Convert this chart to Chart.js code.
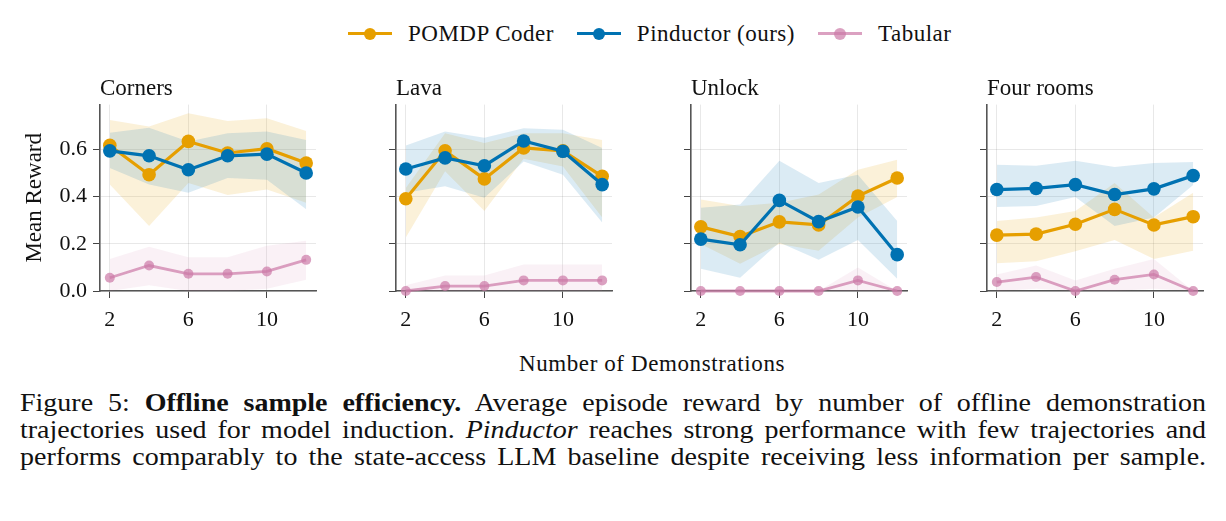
<!DOCTYPE html>
<html>
<head>
<meta charset="utf-8">
<script src="https://cdn.jsdelivr.net/npm/chart.js"></script>
<style>
    html, body { margin: 0; padding: 0; background: #fff; }
    body { width: 1226px; height: 521px; position: relative; overflow: hidden;
           font-family: "Liberation Serif", "Times New Roman", serif; color: #111; }
    canvas { position: absolute; top: 70px; }
    #legend { position: absolute; top: 20px; left: 348px; height: 28px; display: flex; align-items: center;
              font-size: 23px; }
    .sw { position: relative; width: 44px; height: 28px; margin-right: 16px; }
    .sw .ln { position: absolute; left: 0; right: 0; top: 12px; height: 3px; }
    .sw .dot { position: absolute; left: 16px; top: 7.5px; width: 12px; height: 12px; border-radius: 50%; }
    .lbl { margin-right: 23px; letter-spacing: 0.5px; }
    #xlabel { position: absolute; top: 351px; left: 0; width: 1304px; text-align: center; font-size: 23px;
              letter-spacing: 0.6px; }
    #caption { position: absolute; left: 20px; top: 389px; width: 1059px; font-size: 25px; line-height: 27px;
               transform: scaleX(1.12); transform-origin: 0 0; }
    #caption div { text-align: justify; text-align-last: justify; white-space: nowrap; }
</style>
</head>
<body>
<div id="legend"></div>
<div id="xlabel">Number of Demonstrations</div>
<div id="caption">
    <div>Figure 5: <b>Offline sample efficiency.</b> Average episode reward by number of offline demonstration</div>
    <div>trajectories used for model induction. <i>Pinductor</i> reaches strong performance with few trajectories and</div>
    <div>performs comparably to the state-access LLM baseline despite receiving less information per sample.</div>
</div>

<script>
// --------------------------------------------------------------------
// DATA
// --------------------------------------------------------------------
const demos = [2, 4, 6, 8, 10, 12];
const xTicks = [2, 6, 10];
const yTicks = [0, 0.2, 0.4, 0.6];
const panelNames = ["Corners", "Lava", "Unlock", "Four rooms"];
const seriesNames = ["POMDP Coder", "Pinductor (ours)", "Tabular"];

// one row per panel
const pomdpMean = [
    [0.617, 0.493, 0.634, 0.585, 0.603, 0.542],
    [0.391, 0.594, 0.475, 0.606, 0.594, 0.486],
    [0.272, 0.231, 0.293, 0.280, 0.402, 0.479],
    [0.237, 0.241, 0.283, 0.346, 0.280, 0.315]
];
const pomdpLow = [
    [0.451, 0.276, 0.458, 0.407, 0.430, 0.374],
    [0.227, 0.507, 0.339, 0.561, 0.528, 0.311],
    [0.199, 0.115, 0.199, 0.171, 0.311, 0.398],
    [0.118, 0.126, 0.168, 0.216, 0.136, 0.171]
];
const pomdpHigh = [
    [0.725, 0.697, 0.753, 0.720, 0.732, 0.678],
    [0.437, 0.669, 0.627, 0.669, 0.669, 0.640],
    [0.388, 0.360, 0.374, 0.409, 0.514, 0.556],
    [0.297, 0.311, 0.339, 0.458, 0.311, 0.416]
];
const pinductorMean = [
    [0.594, 0.573, 0.514, 0.573, 0.580, 0.500],
    [0.517, 0.564, 0.531, 0.636, 0.592, 0.451],
    [0.220, 0.196, 0.384, 0.294, 0.356, 0.154],
    [0.430, 0.435, 0.451, 0.409, 0.433, 0.489]
];
const pinductorLow = [
    [0.521, 0.451, 0.416, 0.479, 0.472, 0.346],
    [0.416, 0.444, 0.395, 0.549, 0.493, 0.290],
    [0.094, 0.056, 0.206, 0.132, 0.216, 0.052],
    [0.356, 0.360, 0.398, 0.276, 0.311, 0.449]
];
const pinductorHigh = [
    [0.671, 0.692, 0.634, 0.669, 0.676, 0.640],
    [0.617, 0.676, 0.650, 0.690, 0.683, 0.606],
    [0.353, 0.367, 0.552, 0.458, 0.493, 0.297],
    [0.535, 0.531, 0.552, 0.526, 0.542, 0.547]
];
const tabularMean = [
    [0.056, 0.108, 0.073, 0.073, 0.083, 0.132],
    [0.000, 0.021, 0.021, 0.045, 0.045, 0.045],
    [0.000, 0.000, 0.000, 0.000, 0.045, 0.000],
    [0.038, 0.059, 0.000, 0.048, 0.070, 0.000]
];
const tabularLow = [
    [0.000, 0.024, 0.000, 0.000, 0.010, 0.048],
    [0.000, 0.000, 0.000, 0.000, 0.000, 0.000],
    [0.000, 0.000, 0.000, 0.000, 0.000, 0.000],
    [0.000, 0.010, 0.000, 0.000, 0.010, 0.000]
];
const tabularHigh = [
    [0.136, 0.188, 0.143, 0.143, 0.192, 0.213],
    [0.024, 0.066, 0.066, 0.112, 0.112, 0.112],
    [0.000, 0.000, 0.000, 0.000, 0.100, 0.000],
    [0.070, 0.108, 0.045, 0.094, 0.136, 0.000]
];

// --------------------------------------------------------------------
// STYLE
// --------------------------------------------------------------------
const ORANGE = "#E69F00";
const BLUE = "#0072B2";
const PINK = "rgba(204,121,167,0.7)";
const colors = [ORANGE, BLUE, PINK];
const bandColors = ["rgba(230,159,0,0.15)", "rgba(0,114,178,0.14)", "rgba(204,121,167,0.10)"];

const FONT = "'Liberation Serif', 'Times New Roman', serif";
Chart.defaults.font.family = FONT;
Chart.defaults.color = "#111";

const axisX = [100, 396, 691, 987];
const PLOT_W = 216;
const PAD_R = 8;
const CANVAS_H = 261;

// legend
const legend = document.getElementById("legend");
seriesNames.forEach((name, i) => {
    const sw = document.createElement("span");
    sw.className = "sw";
    sw.innerHTML = `<span class="ln" style="background:${colors[i]}"></span>` +
                   `<span class="dot" style="background:${colors[i]}"></span>`;
    const lbl = document.createElement("span");
    lbl.className = "lbl";
    lbl.textContent = name;
    legend.appendChild(sw);
    legend.appendChild(lbl);
});

function pts(arr) {
    return demos.map((x, i) => ({ x: x, y: arr[i] }));
}

function line(arr, color, width, radius, order) {
    return {
        data: pts(arr), borderColor: color, backgroundColor: color,
        borderWidth: width, pointRadius: radius, pointBorderWidth: 0,
        pointBackgroundColor: color, fill: false, order: order, clip: false
    };
}

function band(arr, color, fillTo, order) {
    return {
        data: pts(arr), borderWidth: 0, pointRadius: 0, backgroundColor: color,
        fill: fillTo, order: order
    };
}

panelNames.forEach((title, p) => {
    const yw = p === 0 ? 100 : 30;
    const canvas = document.createElement("canvas");
    const w = yw + PLOT_W + PAD_R;
    canvas.width = w;
    canvas.height = CANVAS_H;
    canvas.style.width = w + "px";
    canvas.style.height = CANVAS_H + "px";
    canvas.style.left = (axisX[p] - yw) + "px";
    document.body.appendChild(canvas);

    new Chart(canvas.getContext("2d"), {
        type: "line",
        data: {
            datasets: [
                line(pinductorMean[p], BLUE, 3.2, 6.8, 0),
                line(pomdpMean[p], ORANGE, 3.2, 6.8, 1),
                line(tabularMean[p], PINK, 2.8, 5, 2),
                band(pinductorHigh[p], bandColors[1], "+1", 10),
                band(pinductorLow[p], "transparent", false, 11),
                band(pomdpHigh[p], bandColors[0], "+1", 12),
                band(pomdpLow[p], "transparent", false, 13),
                band(tabularHigh[p], bandColors[2], "+1", 14),
                band(tabularLow[p], "transparent", false, 15)
            ]
        },
        options: {
            responsive: false,
            animation: false,
            devicePixelRatio: 1,
            layout: { padding: { top: 0, right: PAD_R, bottom: 0, left: 0 } },
            plugins: {
                legend: { display: false },
                tooltip: { enabled: false },
                title: {
                    display: true, text: title, align: "start", fullSize: false,
                    font: { size: 23, weight: "normal", family: FONT }, color: "#111",
                    padding: { top: 5, bottom: 2 }
                }
            },
            scales: {
                x: {
                    type: "linear", min: 1.5, max: 12.5,
                    afterBuildTicks: s => { s.ticks = xTicks.map(v => ({ value: v })); },
                    afterFit: s => { s.height = 40; },
                    ticks: { font: { size: 22 }, color: "#111", padding: 9, maxRotation: 0 },
                    grid: { color: "rgba(0,0,0,0.09)", tickColor: "#444", tickLength: 7, lineWidth: 1 },
                    border: { color: "#555", width: 1.6 }
                },
                y: {
                    type: "linear", min: 0, max: 0.79,
                    afterBuildTicks: s => { s.ticks = yTicks.map(v => ({ value: v })); },
                    afterFit: s => { s.width = yw; },
                    ticks: {
                        font: { size: 22 }, color: "#111", padding: 6,
                        callback: v => p === 0 ? v.toFixed(1) : ""
                    },
                    grid: { color: "rgba(0,0,0,0.09)", tickColor: "#444", tickLength: 7, lineWidth: 1 },
                    border: { color: "#555", width: 1.6 },
                    title: {
                        display: p === 0, text: "Mean Reward", color: "#111",
                        font: { size: 23 }, padding: { top: 21, bottom: 0 }
                    }
                }
            }
        }
    });
});
</script>
</body>
</html>
